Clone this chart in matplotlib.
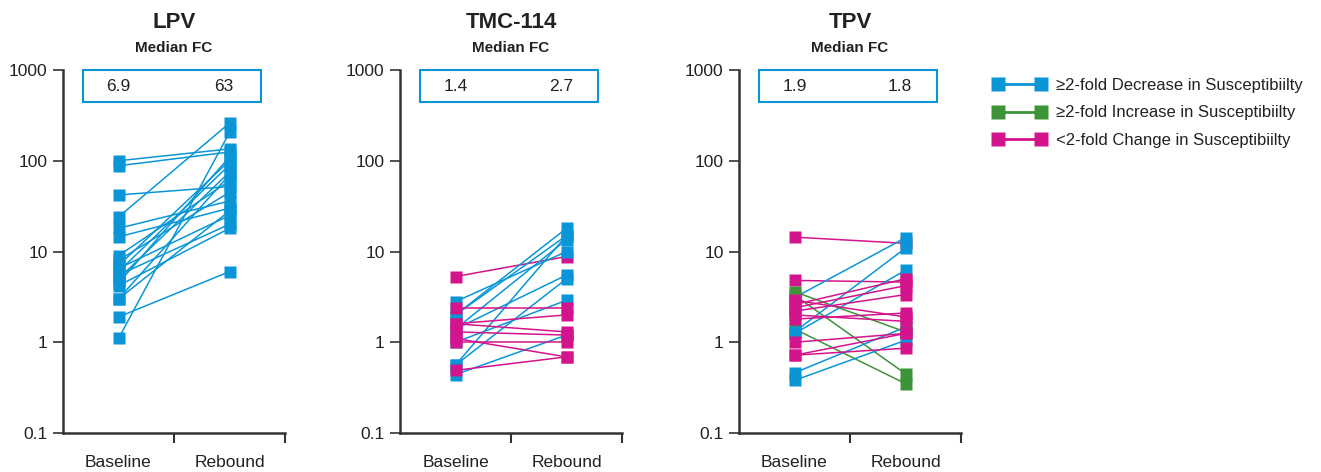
import matplotlib
matplotlib.use("Agg")
import matplotlib.pyplot as plt
from matplotlib.lines import Line2D
from matplotlib.patches import Rectangle

plt.rcParams['font.family'] = ['Liberation Sans Narrow', 'Liberation Sans', 'DejaVu Sans']

BLUE = '#0a96d6'
GREEN = '#3d9438'
MAGENTA = '#d4148c'
cmap = {'b': BLUE, 'g': GREEN, 'm': MAGENTA}

categories = ['Baseline', 'Rebound']
titles = ['LPV', 'TMC-114', 'TPV']
medians = [('6.9', '63'), ('1.4', '2.7'), ('1.9', '1.8')]

lpv_base = [100, 88, 42, 24, 18, 14.5, 9, 8, 7, 6.5, 6, 5.5, 5, 4.5, 4.2, 3.0, 3.0, 1.9, 1.1]
lpv_reb = [135, 125, 52, 260, 36, 30, 60, 45, 100, 25, 90, 20, 75, 110, 18, 70, 28, 6, 205]
lpv_col = ['b'] * len(lpv_base)

tmc_base = [5.3, 2.8, 2.0, 2.0, 1.4, 1.4, 1.0, 0.56, 0.56, 0.44, 2.4, 1.6, 1.6, 1.3, 1.1, 1.0, 0.49]
tmc_reb = [8.8, 10, 18, 15, 13.5, 5.5, 2.9, 15, 5.0, 1.2, 2.4, 2.0, 1.3, 1.2, 0.69, 1.0, 0.69]
tmc_col = ['m', 'b', 'b', 'b', 'b', 'b', 'b', 'b', 'b', 'b', 'm', 'm', 'm', 'm', 'm', 'm', 'm']

tpv_base = [14.4, 4.8, 3.1, 3.6, 3.3, 1.4, 1.3, 1.25, 0.46, 0.38, 2.9, 2.6, 2.2, 2.0, 1.8, 2.4, 1.0, 0.72, 0.72]
tpv_reb = [12.3, 4.6, 14.2, 1.3, 0.45, 0.35, 10.9, 6.2, 1.47, 1.05, 1.9, 5.0, 3.35, 1.7, 2.1, 4.2, 1.25, 1.25, 0.86]
tpv_col = ['m', 'm', 'b', 'g', 'g', 'g', 'b', 'b', 'b', 'b', 'm', 'm', 'm', 'm', 'm', 'm', 'm', 'm', 'm']

panels = [(lpv_base, lpv_reb, lpv_col), (tmc_base, tmc_reb, tmc_col), (tpv_base, tpv_reb, tpv_col)]

legend_labels = ['\u22652-fold Decrease in Susceptibiilty',
                 '\u22652-fold Increase in Susceptibiilty',
                 '<2-fold Change in Susceptibiilty']

W, H = 1321, 472
fig = plt.figure(figsize=(W / 100, H / 100), dpi=100)

lefts = [63, 400, 739]
ax_w = 222
ax_top, ax_bot = 70, 433
SPINE = '#333333'

for i, (base, reb, cols) in enumerate(panels):
    ax = fig.add_axes([lefts[i] / W, 1 - ax_bot / H, ax_w / W, (ax_bot - ax_top) / H])
    ax.set_yscale('log')
    ax.set_ylim(0.1, 1000)
    ax.set_xlim(0, 2)
    for b, r, c in zip(base, reb, cols):
        ax.plot([0.5, 1.5], [b, r], color=cmap[c], lw=1.1, marker='s', ms=8.5,
                mec='none', solid_capstyle='butt', clip_on=False, zorder=3)
    ax.set_yticks([0.1, 1, 10, 100, 1000])
    ax.set_yticklabels(['0.1', '1', '10', '100', '1000'])
    ax.yaxis.set_minor_locator(matplotlib.ticker.NullLocator())
    ax.set_xticks([1, 2])
    ax.set_xticklabels([])
    for x, lab in zip([0.5, 1.5], categories):
        ax.text(x, -0.06, lab, transform=ax.get_xaxis_transform(), ha='center', va='top',
                fontsize=12.5, color='#222222')
    ax.tick_params(axis='y', length=7, width=1.2, color=SPINE, labelsize=12.5, labelcolor='#222222', pad=4)
    ax.tick_params(axis='x', length=7, width=1.5, color=SPINE)
    for s in ['top', 'right']:
        ax.spines[s].set_visible(False)
    for s in ['left', 'bottom']:
        ax.spines[s].set_color(SPINE)
        ax.spines[s].set_linewidth(1.8)
    rect = Rectangle((0.18, 444), 1.6, 1000 - 444, transform=ax.transData,
                     fill=False, ec=BLUE, lw=1.5, clip_on=False, zorder=4)
    ax.add_patch(rect)
    ax.text(0.5, 666, medians[i][0], ha='center', va='center', fontsize=12.5, color='#222222')
    ax.text(1.45, 666, medians[i][1], ha='center', va='center', fontsize=12.5, color='#222222')
    cx = (lefts[i] + ax_w / 2) / W
    fig.text(cx, 1 - 22 / H, titles[i], ha='center', va='center', fontsize=16, fontweight='bold', color='#222222')
    fig.text(cx, 1 - 48 / H, 'Median FC', ha='center', va='center', fontsize=11, fontweight='bold', color='#222222')

handles = [Line2D([0, 1], [0, 0], color=c, lw=2, marker='s', ms=10, mec='none')
           for c in [BLUE, GREEN, MAGENTA]]
fig.legend(handles, legend_labels, loc='upper left', bbox_to_anchor=(993 / W, 1 - 78 / H),
           frameon=False, numpoints=2, handlelength=3.2, fontsize=12, labelspacing=0.75,
           handletextpad=0.6, borderpad=0, borderaxespad=0, labelcolor='#222222')

fig.savefig('out.png', dpi=100)
